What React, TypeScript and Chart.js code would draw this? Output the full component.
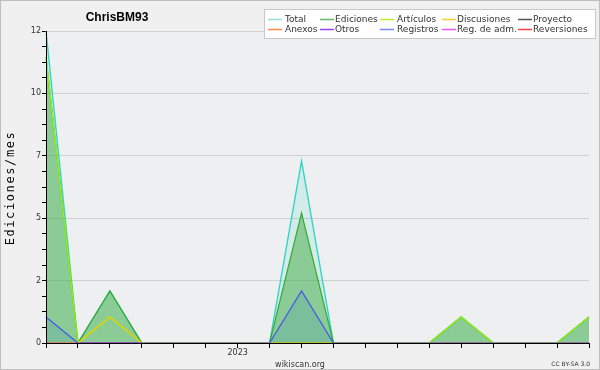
import React, { useEffect, useRef } from "react";
import { Chart, registerables } from "chart.js";

Chart.register(...registerables);

const months = [
  "2022-07", "2022-08", "2022-09", "2022-10", "2022-11", "2022-12",
  "2023-01", "2023-02", "2023-03", "2023-04", "2023-05", "2023-06",
  "2023-07", "2023-08", "2023-09", "2023-10", "2023-11", "2023-12",
];
const xTickLabels: Record<string, string> = { "2023-01": "2023" };

const total =       [12, 0, 2, 0, 0, 0, 0, 0, 7, 0, 0, 0, 0, 1, 0, 0, 0, 1];
const ediciones =   [11, 0, 2, 0, 0, 0, 0, 0, 5, 0, 0, 0, 0, 1, 0, 0, 0, 1];
const articulos =   [11, 0, 1, 0, 0, 0, 0, 0, 0, 0, 0, 0, 0, 1, 0, 0, 0, 1];
const discusiones = [0, 0, 1, 0, 0, 0, 0, 0, 0, 0, 0, 0, 0, 0, 0, 0, 0, 0];
const proyecto =    [0, 0, 0, 0, 0, 0, 0, 0, 0, 0, 0, 0, 0, 0, 0, 0, 0, 0];
const anexos =      [0, 0, 0, 0, 0, 0, 0, 0, 0, 0, 0, 0, 0, 0, 0, 0, 0, 0];
const otros =       [0, 0, 0, 0, 0, 0, 0, 0, 0, 0, 0, 0, 0, 0, 0, 0, 0, 0];
const registros =   [1, 0, 0, 0, 0, 0, 0, 0, 2, 0, 0, 0, 0, 0, 0, 0, 0, 0];
const regAdm =      [0, 0, 0, 0, 0, 0, 0, 0, 0, 0, 0, 0, 0, 0, 0, 0, 0, 0];
const reversiones = [0, 0, 0, 0, 0, 0, 0, 0, 0, 0, 0, 0, 0, 0, 0, 0, 0, 0];

const yMax = 12;
const yMinorCount = 20;

const legendItems = [
  { label: "Total", color: "#99dddd" },
  { label: "Anexos", color: "#ff8844" },
  { label: "Ediciones", color: "#66bb66" },
  { label: "Otros", color: "#9944ee" },
  { label: "Artículos", color: "#bbee33" },
  { label: "Registros", color: "#7788ff" },
  { label: "Discusiones", color: "#ffcc33" },
  { label: "Reg. de adm.", color: "#ee55ff" },
  { label: "Proyecto", color: "#555555" },
  { label: "Reversiones", color: "#ff4444" },
];

const FONT = "'DejaVu Sans', sans-serif";

const decor = {
  id: "decor",
  beforeDraw(chart: any) {
    const { ctx, chartArea } = chart;
    const { left, top, right, bottom } = chartArea;
    ctx.save();
    ctx.fillStyle = "#f0f0f0";
    ctx.fillRect(0, 0, chart.width, chart.height);
    ctx.fillStyle = "#eeeff1";
    ctx.fillRect(left, top, right - left, bottom - top);
    ctx.restore();
  },
  afterDatasetsDraw(chart: any) {
    const { ctx, chartArea } = chart;
    const { left, top, right, bottom } = chartArea;
    ctx.save();
    ctx.strokeStyle = "#000";
    ctx.lineWidth = 1;
    const xl = Math.round(left - 0.5) + 0.5;
    const yb = Math.round(bottom - 0.5) + 0.5;
    ctx.beginPath();
    ctx.moveTo(xl, top);
    ctx.lineTo(xl, bottom + 1);
    ctx.moveTo(left, yb);
    ctx.lineTo(right, yb);
    ctx.stroke();
    ctx.restore();
  },
  afterDraw(chart: any) {
    const { ctx } = chart;
    ctx.save();
    // title
    ctx.fillStyle = "#000";
    ctx.font = "bold 12px 'Liberation Sans', sans-serif";
    ctx.textAlign = "center";
    ctx.textBaseline = "alphabetic";
    ctx.fillText("ChrisBM93", 117, 21);

    // y title
    ctx.save();
    ctx.translate(14, 188);
    ctx.rotate(-Math.PI / 2);
    ctx.font = "12px 'DejaVu Sans Mono', monospace";
    (ctx as any).letterSpacing = "1.6px";
    ctx.textAlign = "center";
    ctx.textBaseline = "alphabetic";
    ctx.fillStyle = "#000";
    ctx.fillText("Ediciones/mes", 0, 0);
    ctx.restore();

    // legend box
    ctx.fillStyle = "#fefefe";
    ctx.fillRect(264.5, 9.5, 331, 29);
    ctx.strokeStyle = "#c8c8c8";
    ctx.lineWidth = 1;
    ctx.strokeRect(264.5, 9.5, 331, 29);
    const colLine = [268, 320, 380, 442, 518];
    const colText = [285, 335, 397, 457, 533];
    const rowY = [19.5, 29.5];
    ctx.font = "9px " + FONT;
    ctx.textAlign = "left";
    ctx.textBaseline = "middle";
    legendItems.forEach((it, i) => {
      const c = Math.floor(i / 2);
      const r = i % 2;
      ctx.strokeStyle = it.color;
      ctx.lineWidth = 1.5;
      ctx.beginPath();
      ctx.moveTo(colLine[c], rowY[r]);
      ctx.lineTo(colLine[c] + 14, rowY[r]);
      ctx.stroke();
      ctx.fillStyle = "#333";
      ctx.fillText(it.label, colText[c], rowY[r]);
    });

    // bottom texts
    ctx.fillStyle = "#333";
    ctx.font = "8px " + FONT;
    ctx.textAlign = "center";
    ctx.textBaseline = "alphabetic";
    ctx.fillText("wikiscan.org", 300, 367);
    ctx.font = "6px " + FONT;
    ctx.textAlign = "right";
    ctx.fillText("CC BY-SA 3.0", 590, 366);

    // outer frame
    ctx.strokeStyle = "#c0c0c0";
    ctx.lineWidth = 1;
    ctx.strokeRect(0.5, 0.5, chart.width - 1, chart.height - 1);
    ctx.restore();
  },
};

function ds(label: string, data: number[], color: string, order: number, fill: any = false, bg = "transparent", width = 1.2) {
  return {
    label,
    data,
    borderColor: color,
    backgroundColor: bg,
    borderWidth: width,
    pointRadius: 0,
    tension: 0,
    fill,
    order,
  };
}

export default function App() {
  const ref = useRef<HTMLCanvasElement>(null);
  useEffect(() => {
    document.body.style.margin = "0";
    const chart = new Chart(ref.current!, {
      type: "line",
      data: {
        labels: months,
        datasets: [
          ds("Total", total, "#33d4c6", 10, "origin", "rgba(90,220,200,0.18)", 1.4),
          ds("Ediciones", ediciones, "#33aa33", 9, "origin", "rgba(60,170,60,0.48)", 1.2),
          ds("Proyecto", proyecto, "#555555", 8),
          ds("Anexos", anexos, "#ff8844", 7),
          ds("Otros", otros, "#9944ee", 6),
          ds("Reg. de adm.", regAdm, "#ee55ff", 5),
          ds("Reversiones", reversiones, "#ff4444", 4),
          ds("Artículos", articulos, "#99ee11", 3, false, "transparent", 1.4),
          ds("Discusiones", discusiones, "#eecc00", 2),
          ds("Registros", registros, "#4455ee", 1, "origin", "rgba(40,120,190,0.16)", 1.2),
        ],
      },
      options: {
        responsive: false,
        animation: false,
        events: [],
        layout: { padding: { top: 31, right: 11, left: 0, bottom: 0 } },
        plugins: {
          legend: { display: false },
          title: { display: false },
          tooltip: { enabled: false },
        },
        scales: {
          x: {
            type: "category",
            offset: false,
            afterFit: (s: any) => { s.height = 27; },
            grid: {
              display: true,
              drawOnChartArea: false,
              drawTicks: true,
              tickLength: 5,
              tickColor: "#000",
              color: "#000",
            },
            border: { display: true, color: "#000" },
            ticks: {
              autoSkip: false,
              maxRotation: 0,
              padding: 0,
              color: "#333",
              font: { family: "DejaVu Sans", size: 8 },
              callback: (_v: any, i: number) => xTickLabels[months[i]] || "",
            },
          },
          y: {
            min: 0,
            max: yMax,
            afterFit: (s: any) => { s.width = 46; },
            afterBuildTicks: (s: any) => {
              s.ticks = Array.from({ length: yMinorCount + 1 }, (_, i) => ({ value: (i * yMax) / yMinorCount }));
            },
            grid: {
              display: true,
              drawOnChartArea: true,
              tickLength: 4,
              color: (c: any) => (c.index % 4 === 0 ? "#cfcfcf" : "rgba(0,0,0,0)"),
              tickColor: "#000",
            },
            border: { display: true, color: "#000" },
            ticks: {
              autoSkip: false,
              padding: 1,
              color: "#333",
              font: { family: "DejaVu Sans", size: 8 },
              callback: (v: any, i: number) => (i % 4 === 0 ? String(Math.round(Number(v))) : ""),
            },
          },
        },
      } as any,
      plugins: [decor],
    });
    return () => chart.destroy();
  }, []);
  return (
    <div style={{ width: 600, height: 370 }}>
      <canvas ref={ref} width={600} height={370} style={{ display: "block" }} />
    </div>
  );
}
